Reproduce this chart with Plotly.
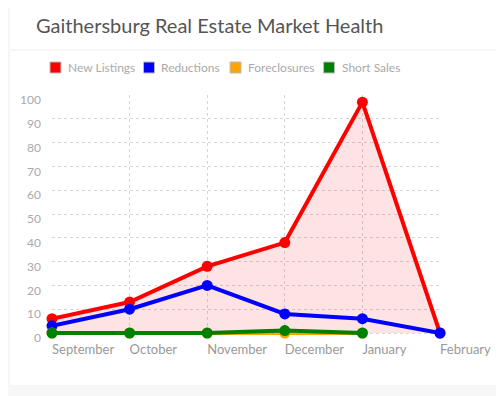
import plotly.graph_objects as go

months = ["September", "October", "November", "December", "January", "February"]
new_listings = [6, 13, 28, 38, 97, 0]
reductions = [3, 10, 20, 8, 6, 0]
foreclosures = [0, 0, 0, 0, 0, None]
short_sales = [0, 0, 0, 1, 0, None]
y_ticks = list(range(0, 101, 10))

series = [
    ("New Listings", new_listings, "#ff0000"),
    ("Reductions", reductions, "#0000ff"),
    ("Foreclosures", foreclosures, "#ffa500"),
    ("Short Sales", short_sales, "#008000"),
]

OFF = 8  # page body margin
W, H = 504 - OFF, 396 - OFF
L, R, T, B = 50 - OFF, 440 - OFF, 95 - OFF, 336 - OFF
Y0 = -3 / 2.38  # a little room under zero so the zero lines are not clipped

def px(x):
    return (x - OFF - L) / (R - L)

def py(y):
    return (B - (y - OFF)) / (B - T)

fig = go.Figure()
for i, (name, vals, col) in enumerate(series):
    fig.add_trace(go.Scatter(
        x=months, y=vals, name=name, mode="lines+markers",
        line=dict(color=col, width=4),
        marker=dict(color=col, size=11),
        fill="tozeroy" if i == 0 else None,
        fillcolor="rgba(235,0,0,0.11)" if i == 0 else None,
        cliponaxis=False, showlegend=False, connectgaps=False,
    ))

shapes = [
    dict(type="rect", xref="paper", yref="paper", x0=px(OFF), x1=px(504), y0=py(385), y1=py(OFF),
         fillcolor="white", line=dict(width=0), layer="below"),
    dict(type="line", xref="paper", yref="paper", x0=px(OFF), x1=px(504), y0=py(50), y1=py(50),
         line=dict(color="#eeeeee", width=1)),
]
annotations = [
    dict(text="Gaithersburg Real Estate Market Health", xref="paper", yref="paper",
         x=px(32), y=py(25), xanchor="left", yanchor="middle", showarrow=False,
         font=dict(family="Lato", size=20, color="#555555")),
]
leg_x = [48, 142, 229, 323]
for (name, vals, col), lx in zip(series, leg_x):
    shapes.append(dict(type="rect", xref="paper", yref="paper", x0=px(lx), x1=px(lx + 11),
                       y0=py(73), y1=py(62), fillcolor=col, line=dict(color="#bbbbbb", width=1)))
    annotations.append(dict(text=name, xref="paper", yref="paper", x=px(lx + 16), y=py(67.5),
                            xanchor="left", yanchor="middle", showarrow=False,
                            font=dict(family="Lato", size=12, color="#aaaaaa")))

fig.update_layout(
    width=W, height=H,
    margin=dict(l=L, r=W - R, t=T, b=H - B),
    paper_bgcolor="#f7f7f7", plot_bgcolor="rgba(0,0,0,0)",
    shapes=shapes, annotations=annotations,
    font=dict(family="Lato", color="#aaaaaa"),
    xaxis=dict(type="category", range=[0, 5], showgrid=True, gridcolor="#d6d6d6",
               griddash="dot", zeroline=False, showline=False, ticks="",
               ticklabelposition="outside right", ticklabelstandoff=4,
               tickfont=dict(size=13, color="#999999")),
    yaxis=dict(range=[Y0, 100], tickvals=y_ticks, showgrid=True, gridcolor="#d6d6d6",
               griddash="dot", zeroline=False, showline=False, ticks="",
               ticklabelstandoff=10, ticklabelshift=5,
               tickfont=dict(size=12, color="#aaaaaa")),
)
fig.write_html("out.html")
